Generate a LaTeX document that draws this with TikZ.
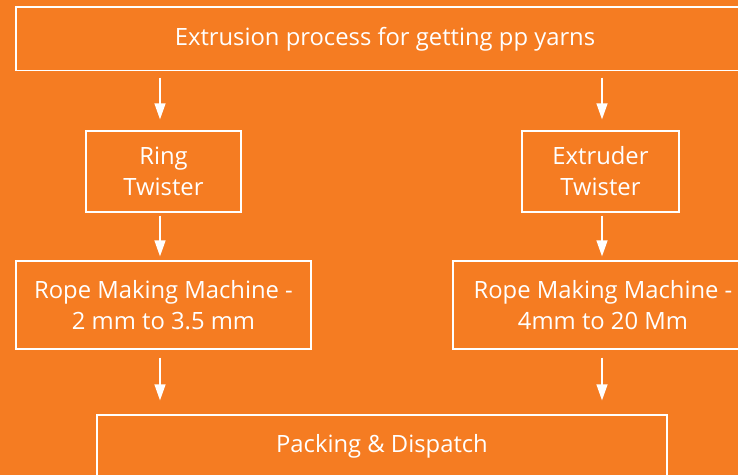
\documentclass[tikz,border=0pt]{standalone}
\usepackage{fontspec}
\setmainfont{Open Sans}
\usetikzlibrary{arrows.meta}
\definecolor{bgorange}{RGB}{245,124,34}
\tikzset{
  box/.style={draw=white, line width=1.3pt, text=white, align=center, inner sep=0pt,
    font=\fontsize{23.8}{31}\selectfont},
  arr/.style={draw=white, line width=1.4pt, -{Triangle[length=16pt,width=11pt]}}
}
\begin{document}
\begin{tikzpicture}[x=1pt,y=-1pt]
\useasboundingbox (0,0) rectangle (738,475);
\fill[bgorange] (0,0) rectangle (738,475);
\clip (0,0) rectangle (738,475);
\node[box, minimum width=738pt, minimum height=63.5pt] (top) at (385,38.75) {\raisebox{2.5pt}{Extrusion process for getting pp yarns}};
\node[box, minimum width=155pt, minimum height=81pt] (ring) at (163.5,171.5) {Ring\\Twister};
\node[box, minimum width=157pt, minimum height=81pt] (extr) at (600.5,171.5) {Extruder\\Twister};
\node[box, minimum width=295pt, minimum height=88pt] (rope1) at (163.5,305) {Rope Making Machine -\\2 mm to 3.5 mm};
\node[box, minimum width=300pt, minimum height=88pt] (rope2) at (603,305) {Rope Making Machine -\\4mm to 20 Mm};
\node[box, minimum width=570pt, minimum height=63pt] (pack) at (382,446.5) {\raisebox{1.5pt}{Packing \& Dispatch}};
\coordinate (colL) at (160,0);
\coordinate (colR) at (602,0);
\draw[arr, shorten <=6.5pt, shorten >=11pt] (top.south -| colL) -- (ring.north -| colL);
\draw[arr, shorten <=6.5pt, shorten >=11pt] (top.south -| colR) -- (extr.north -| colR);
\draw[arr, shorten <=3pt, shorten >=4pt] (ring.south -| colL) -- (rope1.north -| colL);
\draw[arr, shorten <=3pt, shorten >=4pt] (extr.south -| colR) -- (rope2.north -| colR);
\draw[arr, shorten <=8pt, shorten >=14pt] (rope1.south -| colL) -- (pack.north -| colL);
\draw[arr, shorten <=8pt, shorten >=14pt] (rope2.south -| colR) -- (pack.north -| colR);
\end{tikzpicture}
\end{document}
